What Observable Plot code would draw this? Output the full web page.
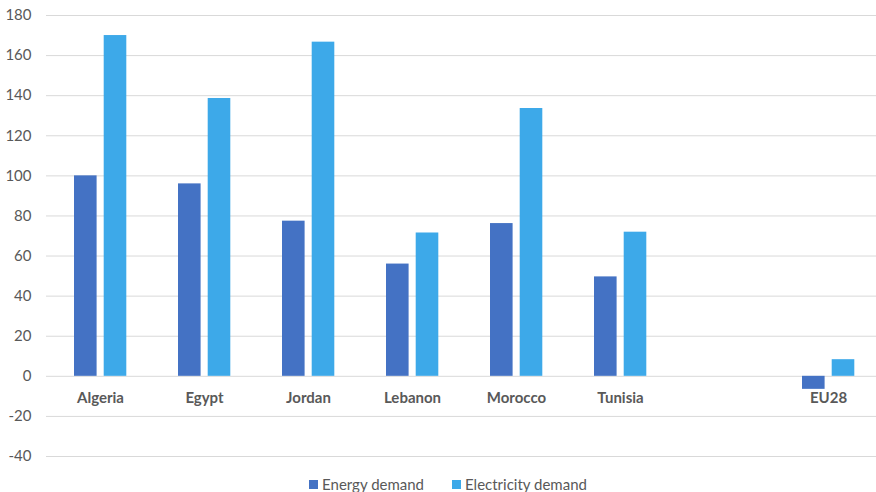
<!DOCTYPE html>
<html>
<head>
<meta charset="utf-8">
<script src="https://cdn.jsdelivr.net/npm/d3@7"></script>
<script src="https://cdn.jsdelivr.net/npm/@observablehq/plot@0.6"></script>
<style>
  html, body { margin: 0; padding: 0; background: #fff; }
  body { width: 876px; height: 492px; overflow: hidden; font-family: Lato, "Open Sans", sans-serif; }
  #legend { display: flex; justify-content: center; gap: 28px; height: 18px; align-items: center; font-size: 15px; color: #595959; margin-top: 1px; padding-left: 20px; }
  #legend span.sw { display: inline-block; width: 9px; height: 9px; margin-right: 4px; vertical-align: middle; }
  #legend div { display: flex; align-items: center; }
</style>
</head>
<body>
<div id="chart"></div>
<div id="legend"></div>
<script>
const countries = ["Algeria", "Egypt", "Jordan", "Lebanon", "Morocco", "Tunisia", "EU28"];
const energyDemand = [100, 96, 77.4, 56, 76.2, 49.6, -6.5];
const electricityDemand = [170, 138.6, 166.7, 71.5, 133.6, 71.9, 8.3];
const slots = ["Algeria", "Egypt", "Jordan", "Lebanon", "Morocco", "Tunisia", "", "EU28"];
const yTicks = [-40, -20, 0, 20, 40, 60, 80, 100, 120, 140, 160, 180];
const seriesNames = ["Energy demand", "Electricity demand"];
const seriesColors = ["#4472C4", "#3DA9E9"];

const data = countries.map((c, i) => ({country: c, energy: energyDemand[i], electricity: electricityDemand[i]}));

const chart = Plot.plot({
  width: 876,
  height: 474,
  marginLeft: 46,
  marginRight: 0,
  marginTop: 15,
  marginBottom: 18,
  style: {fontFamily: "Lato, 'Open Sans', sans-serif", color: "#595959", background: "#fff"},
  x: {domain: slots, range: [45, 883], padding: 0, axis: null},
  y: {domain: [-40, 180], axis: null},
  marks: [
    Plot.ruleY(yTicks, {stroke: "#d9d9d9", strokeWidth: 1}),
    Plot.axisY({ticks: yTicks, tickFormat: d => String(d), tickSize: 0, tickPadding: 15, fontSize: 15, fill: "#595959"}),
    Plot.barY(data, {x: "country", y: "energy", fill: seriesColors[0], insetLeft: 26, insetRight: 55.4}),
    Plot.barY(data, {x: "country", y: "electricity", fill: seriesColors[1], insetLeft: 55.7, insetRight: 25.7}),
    Plot.text(countries, {x: d => d, y: 0, dy: 22, text: d => d, fontWeight: "bold", fontSize: 15, fill: "#595959"})
  ]
});
document.getElementById("chart").appendChild(chart);

const legend = document.getElementById("legend");
seriesNames.forEach((n, i) => {
  const d = document.createElement("div");
  const sw = document.createElement("span");
  sw.className = "sw";
  sw.style.background = seriesColors[i];
  d.appendChild(sw);
  d.appendChild(document.createTextNode(n));
  legend.appendChild(d);
});
</script>
</body>
</html>
